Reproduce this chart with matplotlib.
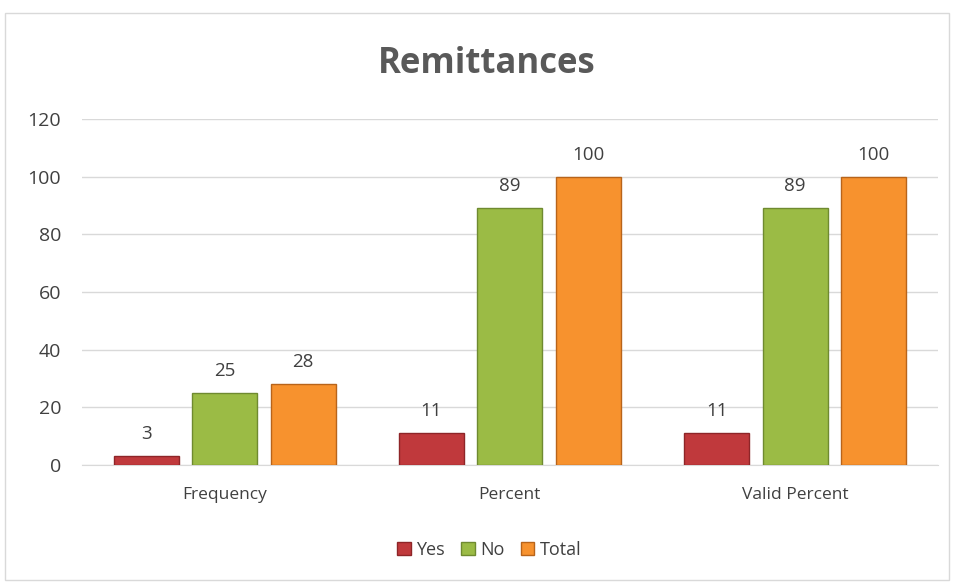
import numpy as np
import matplotlib.pyplot as plt
from matplotlib.patches import Rectangle, Patch

plt.rcParams['font.family'] = ['Open Sans', 'DejaVu Sans']

categories = ['Frequency', 'Percent', 'Valid Percent']
series_names = ['Yes', 'No', 'Total']
yes_vals = [3, 11, 11]
no_vals = [25, 89, 89]
total_vals = [28, 100, 100]
y_ticks = [0, 20, 40, 60, 80, 100, 120]

colors = ['#C0393C', '#9BBB45', '#F7922E']
edges = ['#8E2528', '#6F8A30', '#B8641A']

fig = plt.figure(figsize=(9.54, 5.84), dpi=100)
ax = fig.add_axes([0.086, 0.204, 0.897, 0.592])

x = np.arange(len(categories))
width = 0.228
offset = 0.275
for i, vals in enumerate([yes_vals, no_vals, total_vals]):
    pos = x + (i - 1) * offset
    bars = ax.bar(pos, vals, width, color=colors[i], edgecolor=edges[i], linewidth=1.0, zorder=3)
    for b, v in zip(bars, vals):
        ax.text(b.get_x() + b.get_width() / 2, v + 4.5, str(v), ha='center', va='bottom',
                fontsize=13.5, color='#404040')

ax.set_xlim(-0.5, len(categories) - 0.5)
ax.set_ylim(0, 120)
ax.set_yticks(y_ticks)
ax.set_xticks(x)
ax.set_xticklabels(categories)
ax.tick_params(axis='both', length=0, labelcolor='#404040')
ax.tick_params(axis='y', pad=15, labelsize=14)
ax.tick_params(axis='x', pad=16, labelsize=12.5)
ax.yaxis.grid(True, color='#D9D9D9', linewidth=1, zorder=0)
for s in ['top', 'right', 'left']:
    ax.spines[s].set_visible(False)
ax.spines['bottom'].set_color('#D9D9D9')

fig.text(0.51, 0.89, 'Remittances', ha='center', va='center', fontsize=25,
         fontweight='bold', color='#595959')

handles = [Patch(facecolor=colors[i], edgecolor=edges[i]) for i in range(3)]
fig.legend(handles, series_names, loc='center', bbox_to_anchor=(0.513, 0.058), ncol=3,
           frameon=False, fontsize=13, handlelength=0.75, handleheight=0.75,
           handletextpad=0.3, columnspacing=0.9, labelcolor='#404040')

fig.patches.append(Rectangle((0.005, 0.007), 0.99, 0.97, transform=fig.transFigure,
                             fill=False, edgecolor='#D9D9D9', linewidth=1))

fig.savefig('out.png', dpi=100)
